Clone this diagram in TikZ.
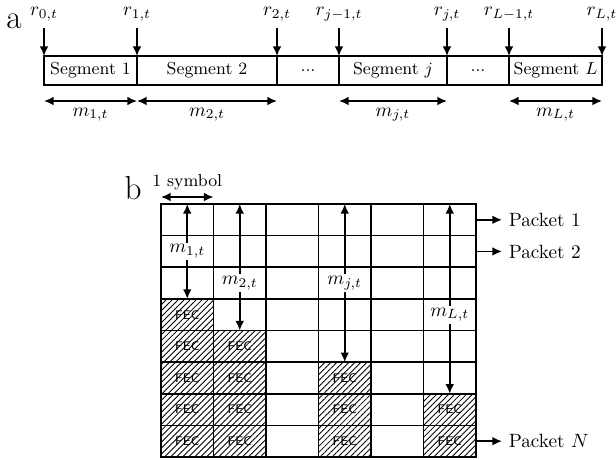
\documentclass[tikz,border=0pt]{standalone}
\usetikzlibrary{arrows.meta,patterns.meta,calc}
\tikzset{
  arr/.style  = {-{Latex[length=5pt,width=4.5pt]}, line width=0.8pt},
  darr/.style = {{Latex[length=5pt,width=4.5pt]}-{Latex[length=5pt,width=4.5pt]}, line width=0.8pt},
  cell/.style = {draw, line width=0.8pt, minimum width=27.3pt,
                 minimum height=16.445pt, inner sep=0pt, outer sep=0pt},
  fec/.style  = {cell, pattern={Lines[angle=45,distance=2.2pt,line width=0.45pt]},
                 font=\fontsize{6.5}{7}\selectfont\sffamily},
  lab/.style  = {fill=white, inner sep=1pt},
  seg/.style  = {font=\small}
}
\begin{document}
\begin{tikzpicture}[x=0.52pt,y=-0.52pt]
\useasboundingbox (0,0) rectangle (616,460);
% (a) the segments
\node[font=\LARGE] (a) at (14,21) {a};
\foreach \i/\x in {0/44,1/137,2/277,3/339,4/447,5/509,6/602}{
  \coordinate (p\i) at (\x,56);  % top of divider
  \coordinate (d\i) at (\x,85);  % bottom of divider
  \coordinate (q\i) at (\x,28);  % start of r arrow
  \coordinate (e\i) at (\x,101); % m arrows
}
\draw[line width=0.8pt] (p0) rectangle (d6);
\foreach \i in {1,...,5} \draw[line width=0.8pt] (p\i) -- (d\i);
\node[seg] (s1) at ($(p0)!0.5!(d1)$) {Segment 1};
\node[seg] (s2) at ($(p1)!0.5!(d2)$) {Segment 2};
\node[seg] (s3) at ($(p2)!0.5!(d3)$) {...};
\node[seg] (sj) at ($(p3)!0.5!(d4)$) {Segment $j$};
\node[seg] (s5) at ($(p4)!0.5!(d5)$) {...};
\node[seg] (sL) at ($(p5)!0.5!(d6)$) {Segment $L$};
\node[above] (r0)  at (q0) {$r_{0,t}$};
\node[above] (r1)  at (q1) {$r_{1,t}$};
\node[above] (r2)  at (q2) {$r_{2,t}$};
\node[above] (rj1) at (q3) {$r_{j-1,t}$};
\node[above] (rj)  at (q4) {$r_{j,t}$};
\node[above] (rL1) at (q5) {$r_{L-1,t}$};
\node[above] (rL)  at (q6) {$r_{L,t}$};
\draw[arr] (r0) -- (p0);
\draw[arr] (r1) -- (p1);
\draw[arr] (r2) -- (p2);
\draw[arr] (rj1) -- (p3);
\draw[arr] (rj) -- (p4);
\draw[arr] (rL1) -- (p5);
\draw[arr] (rL) -- (p6);
\draw[darr] (e0) -- (e1);
\draw[darr] (e1) -- (e2);
\draw[darr] (e3) -- (e4);
\draw[darr] (e5) -- (e6);
\node[below] (m1) at ($(e0)!0.5!(e1)$) {$m_{1,t}$};
\node[below] (m2) at ($(e1)!0.5!(e2)$) {$m_{2,t}$};
\node[below] (mj) at ($(e3)!0.5!(e4)$) {$m_{j,t}$};
\node[below] (mL) at ($(e5)!0.5!(e6)$) {$m_{L,t}$};
% (b) the packets
\node[font=\LARGE] (b) at (133,188) {b};
\foreach \r in {0,...,7}
  \foreach \c in {1,...,6}
    \node[cell] (c-\r-\c) at (134.75+52.5*\c, 219.81+31.625*\r) {};
\foreach \r/\c in {3/1,4/1,5/1,6/1,7/1,4/2,5/2,6/2,7/2,5/4,6/4,7/4,6/6,7/6}
  \node[fec] (f-\r-\c) at (c-\r-\c) {FEC};
\draw[darr] (c-0-1.north) -- (c-2-1.south);
\node[lab] (mb1) at (c-1-1) {$m_{1,t}$};
\draw[darr] (c-0-2.north) -- (c-3-2.south);
\node[lab] (mb2) at (c-2-2) {$m_{2,t}$};
\draw[darr] (c-0-4.north) -- (c-4-4.south);
\node[lab] (mbj) at (c-2-4) {$m_{j,t}$};
\draw[darr] (c-0-6.north) -- (c-5-6.south);
\node[lab] (mbL) at (c-3-6) {$m_{L,t}$};
% one symbol wide
\coordinate (sy0) at ($(c-0-1.north west)+(0,-7)$);
\coordinate (sy1) at ($(c-0-1.north east)+(0,-7)$);
\draw[darr] (sy0) -- (sy1);
\node[above, font=\small] (sym) at ($(sy0)!0.5!(sy1)$) {1 symbol};
% packet labels
\node[anchor=west] (pk1) at ($(c-0-6.east)+(26,0)$) {Packet 1};
\node[anchor=west] (pk2) at ($(c-1-6.east)+(26,0)$) {Packet 2};
\node[anchor=west] (pkN) at ($(f-7-6.east)+(26,0)$) {Packet $N$};
\draw[arr] (c-0-6.east) -- (pk1);
\draw[arr] (c-1-6.east) -- (pk2);
\draw[arr] (f-7-6.east) -- (pkN);
\end{tikzpicture}
\end{document}
